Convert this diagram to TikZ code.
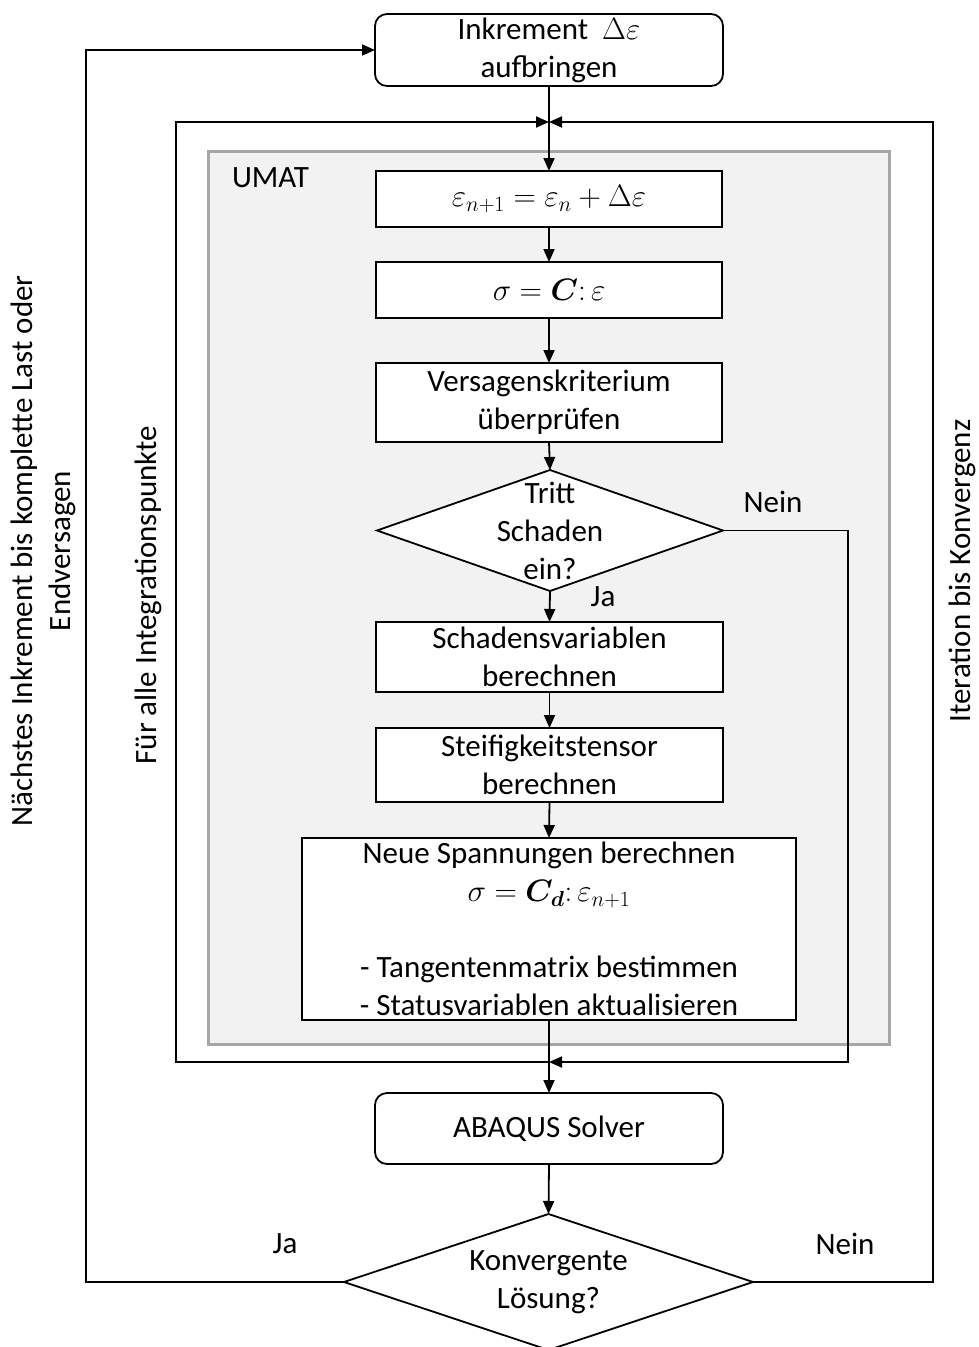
\RequirePackage{fix-cm}
\documentclass[tikz,border=0pt]{standalone}
\usepackage{amsmath,bm}
\usepackage{fontspec}
\setmainfont{Carlito}
\usetikzlibrary{shapes.geometric,arrows.meta}

\begin{document}
\begin{tikzpicture}[x=1pt,y=-1pt,
  every node/.style={font=\fontsize{31}{38}\selectfont},
  flow/.style={line width=1.8pt, draw=black},
  arr/.style={flow, -{Triangle[length=13pt,width=11pt]}},
  procbox/.style={draw, line width=1.8pt, fill=white, inner sep=0pt, outer sep=0pt,
                  align=center, minimum width=346pt},
  roundbox/.style={procbox, rounded corners=12pt},
  decision/.style={diamond, draw, line width=1.8pt, fill=white, inner sep=0pt, outer sep=0pt},
  lbl/.style={inner sep=0pt, outer sep=0pt},
  panel/.style={draw=black!35, fill=black!5, line width=3pt}
]
\useasboundingbox (0,0) rectangle (979,1347);

% UMAT panel
\draw[panel] (208,151) rectangle (889,1044);
\node[lbl, anchor=west] (umat) at (232,178) {UMAT};

% process steps
\node[roundbox, minimum width=348pt, minimum height=72pt] (top) at (549,50)
  {Inkrement~ $\Delta\varepsilon$\\aufbringen};
\node[procbox, minimum height=56pt] (b1) at (549,199)
  {$\varepsilon_{n+1}=\varepsilon_n+\Delta\varepsilon$};
\node[procbox, minimum height=56pt] (b2) at (549,290)
  {$\sigma=\bm{C}{:}\,\varepsilon$};
\node[procbox, minimum height=79pt] (b3) at (549,402.5)
  {Versagenskriterium\\überprüfen};
\node[decision, minimum width=346pt, minimum height=121pt] (d1) at (550,530.5) {};
\node[lbl, align=center] (d1text) at (d1.center) {Tritt\\Schaden\\ein?};
\node[procbox, minimum width=347pt, minimum height=70pt] (b4) at (549.5,657)
  {Schadensvariablen\\berechnen};
\node[procbox, minimum width=347pt, minimum height=74pt] (b5) at (549.5,765)
  {Steifigkeitstensor\\berechnen};
\node[procbox, minimum width=494pt, minimum height=182pt] (b6) at (549,929)
  {Neue Spannungen berechnen\\
   $\sigma=\bm{C}_{\bm{d}}{:}\,\varepsilon_{n+1}$\\
   \strut\\
   - Tangentenmatrix bestimmen\\
   - Statusvariablen aktualisieren};
\node[roundbox, minimum width=348pt, minimum height=71pt] (solver) at (549,1128.5)
  {ABAQUS Solver};
\node[decision, minimum width=409pt, minimum height=136pt] (d2) at (548.5,1282) {};
\node[lbl, align=center] (d2text) at (d2.center) {Konvergente\\Lösung?};

% junctions and corners of the loops
\coordinate (j1) at (549,122);
\coordinate (j2) at (549,1062);
\coordinate (fl) at (176,1062);
\coordinate (fr) at (848,1062);
\coordinate (rr) at (933,122);
\coordinate (ll) at (86,50);

% main flow
\draw[arr] (top.south) -- (b1.north);
\draw[arr] (b1.south) -- (b2.north);
\draw[arr] (b2.south) -- (b3.north);
\draw[arr] (b3.south) -- (d1.north);
\draw[arr] (d1.south) -- (b4.north);
\draw[arr] (b4.south) -- (b5.north);
\draw[arr] (b5.south) -- (b6.north);
\draw[arr] (b6.south) -- (solver.north);
\draw[arr] (solver.south) -- (d2.north);

% loops
\draw[arr] (d1.east) -| (fr) -- (j2);
\draw[arr] (j2) -- (fl) |- (j1);
\draw[arr] (d2.east) -| (rr) -- (j1);
\draw[arr] (d2.west) -| (ll) -- (top.west);

% branch labels
\node[lbl] (nein1) at (773,502) {Nein};
\node[lbl] (ja1) at (603,597) {Ja};
\node[lbl] (ja2) at (285,1244) {Ja};
\node[lbl] (nein2) at (845,1244) {Nein};

% loop captions
\node[lbl, rotate=90, align=center] (capouter) at (43,551)
  {Nächstes Inkrement bis komplette Last oder\\Endversagen};
\node[lbl, rotate=90] (capint) at (148,595) {Für alle Integrationspunkte};
\node[lbl, rotate=90] (capiter) at (962,571) {Iteration bis Konvergenz};
\end{tikzpicture}
\end{document}
